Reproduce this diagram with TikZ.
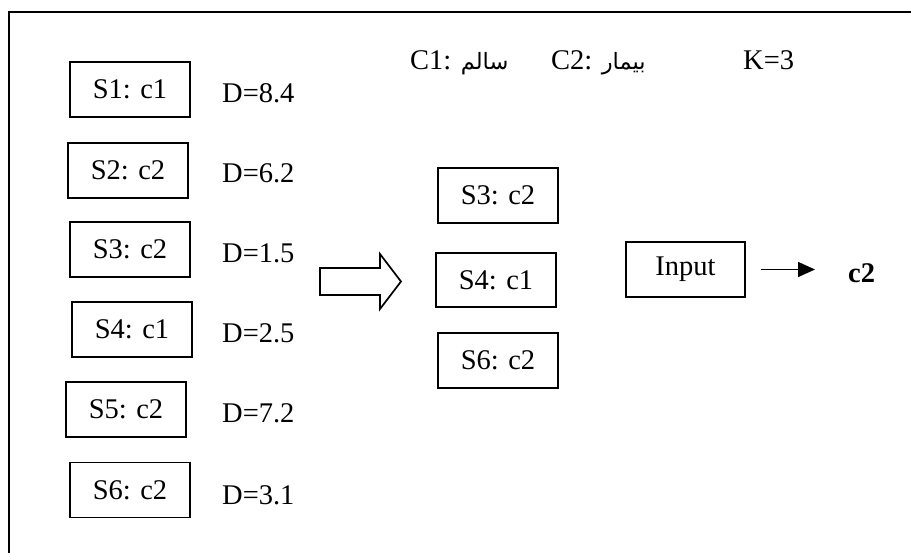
\documentclass[tikz,border=0pt]{standalone}
\usepackage{fontspec}
\setmainfont{Liberation Serif}
\newfontfamily\arabicfont[Script=Arabic]{DejaVu Sans}
\TeXXeTstate=1
\usetikzlibrary{arrows.meta}
\tikzset{
  sbox/.style={draw, line width=1.7pt, minimum width=120pt, minimum height=55pt, inner sep=0pt},
  dlab/.style={anchor=base west, inner sep=0pt},
  frameline/.style={line width=2.6pt},
}
\begin{document}
\begin{tikzpicture}[x=1pt,y=-1pt,font=\fontsize{28.5}{33}\selectfont]
\useasboundingbox (0,0) rectangle (911,553);
\draw[frameline] (9,560) -- (9,12) -- (920,12);
% left column
\node[sbox] (s1) at (130,89.5) {S1: c1};
\node[sbox] (s2) at (128,170.5) {S2: c2};
\node[sbox] (s3) at (130,249.5) {S3: c2};
\node[sbox] (s4) at (132,329.5) {S4: c1};
\node[sbox] (s5) at (126,409.5) {S5: c2};
\node[sbox] (s6) at (130,490) {S6: c2};
\node[dlab] (d1) at (222,103) {D=8.4};
\node[dlab] (d2) at (222,183) {D=6.2};
\node[dlab] (d3) at (222,263) {D=1.5};
\node[dlab] (d4) at (222,343) {D=2.5};
\node[dlab] (d5) at (222,423) {D=7.2};
\node[dlab] (d6) at (222,504) {D=3.1};
% header
\node[dlab] (h1) at (410,70) {C1: {\arabicfont\fontsize{22.5}{26}\selectfont\beginR سالم\endR}};
\node[dlab] (h2) at (551,70) {C2: {\arabicfont\fontsize{22.5}{26}\selectfont\beginR بیمار\endR}};
\node[dlab] (k) at (743,70) {K=3};
% block arrow
\draw[line width=1.7pt, line join=miter] (320,268) -- (380,268) -- (380,254) -- (401,281.5) -- (380,309) -- (380,295) -- (320,295) -- cycle;
% middle column
\node[sbox] (m3) at (498,195.5) {S3: c2};
\node[sbox, minimum height=54pt] (m4) at (496,280) {S4: c1};
\node[sbox] (m6) at (498,360.5) {S6: c2};
% input
\node[sbox, minimum width=119pt] (inp) at (685.5,269.5) {Input};
\node[dlab, font=\fontsize{28.5}{33}\selectfont\bfseries] (out) at (848,283) {c2};
\draw[line width=1.7pt, -{Triangle[length=17pt,width=15pt]}] ([xshift=15pt]inp.east) -- ([xshift=-33pt]out.west |- inp.east);
\end{tikzpicture}
\end{document}
